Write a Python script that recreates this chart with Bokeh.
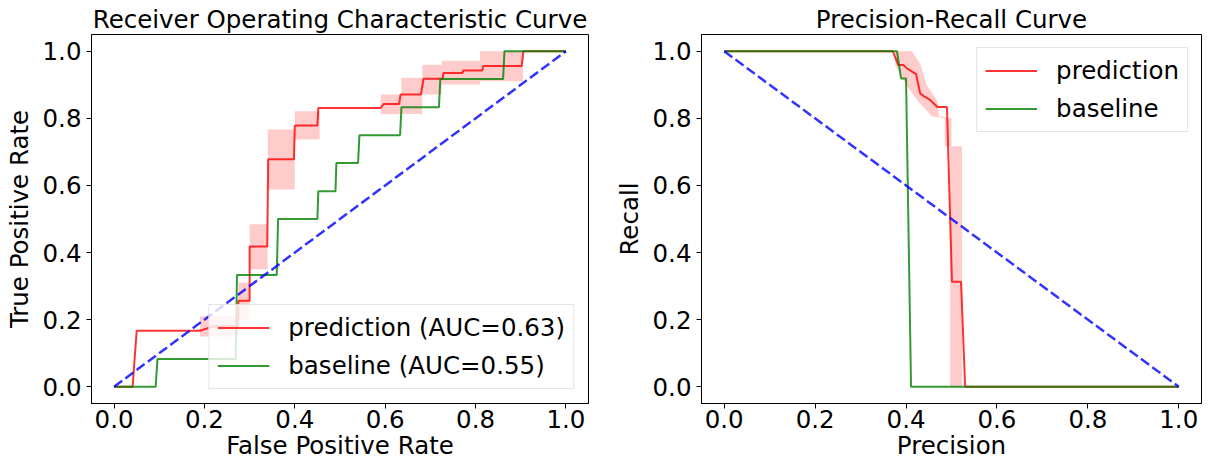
from bokeh.plotting import figure
from bokeh.layouts import row
from bokeh.models import Range1d, FixedTicker, PrintfTickFormatter
from bokeh.embed import file_html
from bokeh.resources import INLINE

# ---------------- data ----------------
tick_values = [0.0, 0.2, 0.4, 0.6, 0.8, 1.0]

# ROC - prediction (mean curve)
roc_pred_fpr = [0.0, 0.041, 0.05, 0.19, 0.22, 0.275, 0.275, 0.30, 0.30, 0.339, 0.341, 0.398, 0.40, 0.45,
                0.452, 0.59, 0.597, 0.631, 0.634, 0.679, 0.685, 0.727, 0.729, 0.771, 0.773, 0.815, 0.817,
                0.902, 0.906, 1.0]
roc_pred_tpr = [0.0, 0.0, 0.167, 0.167, 0.18, 0.18, 0.256, 0.256, 0.418, 0.418, 0.678, 0.678, 0.779, 0.779,
                0.831, 0.831, 0.843, 0.843, 0.871, 0.871, 0.918, 0.918, 0.935, 0.935, 0.943, 0.943, 0.956,
                0.956, 1.0, 1.0]
# ROC - prediction (std band)
roc_band_fpr = [0.19, 0.275, 0.275, 0.30, 0.30, 0.34, 0.34, 0.40, 0.40, 0.455, 0.455, 0.59, 0.59, 0.636,
                0.636, 0.682, 0.682, 0.725, 0.725, 0.81, 0.81, 0.905]
roc_band_lo = [0.15, 0.15, 0.20, 0.20, 0.35, 0.35, 0.588, 0.588, 0.737, 0.737, 0.831, 0.831, 0.812, 0.812,
               0.813, 0.813, 0.871, 0.871, 0.901, 0.901, 0.911, 0.911]
roc_band_hi = [0.21, 0.21, 0.31, 0.31, 0.484, 0.484, 0.767, 0.767, 0.821, 0.821, 0.831, 0.831, 0.871, 0.871,
               0.921, 0.921, 0.96, 0.96, 0.972, 0.972, 1.0, 1.0]
# ROC - baseline
roc_base_fpr = [0.0, 0.092, 0.096, 0.269, 0.272, 0.36, 0.363, 0.45, 0.452, 0.49, 0.492, 0.54, 0.543,
                0.633, 0.636, 0.719, 0.722, 0.861, 0.864, 1.0]
roc_base_tpr = [0.0, 0.0, 0.083, 0.083, 0.333, 0.333, 0.5, 0.5, 0.583, 0.583, 0.667, 0.667, 0.75, 0.75,
                0.833, 0.833, 0.917, 0.917, 1.0, 1.0]

# PR - prediction
pr_pred_prec = [0.0, 0.371, 0.383, 0.394, 0.402, 0.422, 0.431, 0.438, 0.453, 0.469, 0.490, 0.501, 0.521,
                0.530, 1.0]
pr_pred_rec = [1.0, 1.0, 0.959, 0.959, 0.949, 0.932, 0.875, 0.867, 0.855, 0.834, 0.834, 0.313, 0.313,
               0.0, 0.0]
# PR - prediction band (over recall)
pr_band_rec = [0.0, 0.717, 0.717, 0.80, 0.806, 0.85, 0.90, 0.96, 1.0]
pr_band_lo = [0.497, 0.497, 0.485, 0.485, 0.457, 0.427, 0.40, 0.376, 0.376]
pr_band_hi = [0.523, 0.523, 0.50, 0.50, 0.472, 0.47, 0.445, 0.432, 0.413]
# PR - baseline
pr_base_prec = [0.0, 0.380, 0.389, 0.400, 0.411, 1.0]
pr_base_rec = [1.0, 1.0, 0.919, 0.919, 0.0, 0.0]

# chance lines
roc_diag_x = [0.0, 1.0]
roc_diag_y = [0.0, 1.0]
pr_diag_x = [0.0, 1.0]
pr_diag_y = [1.0, 0.0]

# ---------------- styling ----------------
FONT = "DejaVu Sans"
FS = "24.5px"
RED = "#ff0000"
GREEN = "#008000"
BLUE = "#0000ff"


def make_fig(title, xlabel, ylabel, width, left, right, top):
    p = figure(width=width, height=467, output_backend="svg", toolbar_location=None,
               x_range=Range1d(-0.05, 1.05), y_range=Range1d(-0.05, 1.05),
               min_border_left=left, min_border_right=right, min_border_top=top,
               min_border_bottom=64, title=title)
    p.title.text_font = FONT
    p.title.text_font_size = FS
    p.title.text_font_style = "normal"
    p.title.align = "center"
    p.title.standoff = 2
    p.title.text_color = "black"
    p.xaxis.axis_label = xlabel
    p.yaxis.axis_label = ylabel
    for ax in (p.xaxis[0], p.yaxis[0]):
        ax.ticker = FixedTicker(ticks=tick_values)
        ax.formatter = PrintfTickFormatter(format="%.1f")
        ax.major_label_text_font = FONT
        ax.major_label_text_font_size = FS
        ax.major_label_text_color = "black"
        ax.axis_label_text_font = FONT
        ax.axis_label_text_font_size = FS
        ax.axis_label_text_font_style = "normal"
        ax.axis_label_text_color = "black"
        ax.major_tick_out = 5
        ax.major_tick_in = 0
        ax.minor_tick_line_color = None
        ax.axis_line_color = "black"
        ax.major_tick_line_color = "black"
    p.xaxis.major_label_standoff = 1
    p.yaxis.major_label_standoff = 5
    p.xaxis.axis_label_standoff = 0
    p.yaxis.axis_label_standoff = 6
    p.xgrid.visible = False
    p.ygrid.visible = False
    p.outline_line_color = "black"
    p.outline_line_alpha = 1.0
    p.outline_line_width = 1
    p.background_fill_color = "white"
    p.border_fill_color = "white"
    return p


def style_legend(p, location, margin):
    lg = p.legend[0]
    lg.location = location
    lg.label_text_font = FONT
    lg.label_text_font_size = FS
    lg.label_text_color = "black"
    lg.glyph_width = 52
    lg.glyph_height = 27
    lg.label_height = 27
    lg.label_standoff = 19
    lg.padding = 8
    lg.spacing = 9
    lg.margin = margin
    lg.border_line_color = "#cccccc"
    lg.border_line_width = 1
    lg.background_fill_color = "white"
    lg.background_fill_alpha = 0.8


# ---------------- ROC ----------------
p1 = make_fig("Receiver Operating Characteristic Curve", "False Positive Rate", "True Positive Rate",
              600, 91, 12, 34)
p1.varea(x=roc_band_fpr, y1=roc_band_lo, y2=roc_band_hi, fill_color=RED, fill_alpha=0.2)
p1.line(roc_pred_fpr, roc_pred_tpr, line_color=RED, line_alpha=0.8, line_width=2,
        legend_label="prediction (AUC=0.63)")
p1.line(roc_base_fpr, roc_base_tpr, line_color=GREEN, line_alpha=0.8, line_width=2,
        legend_label="baseline (AUC=0.55)")
p1.line(roc_diag_x, roc_diag_y, line_color=BLUE, line_alpha=0.8, line_width=2.5, line_dash="10 4")
style_legend(p1, "bottom_right", 14)

# ---------------- PR ----------------
p2 = make_fig("Precision-Recall Curve", "Precision", "Recall", 608, 101, 7, 31)
p2.harea(y=pr_band_rec, x1=pr_band_lo, x2=pr_band_hi, fill_color=RED, fill_alpha=0.2)
p2.line(pr_pred_prec, pr_pred_rec, line_color=RED, line_alpha=0.8, line_width=2,
        legend_label="prediction")
p2.line(pr_base_prec, pr_base_rec, line_color=GREEN, line_alpha=0.8, line_width=2,
        legend_label="baseline")
p2.line(pr_diag_x, pr_diag_y, line_color=BLUE, line_alpha=0.8, line_width=2.5, line_dash="10 4")
style_legend(p2, "top_right", 13)

layout = row(p1, p2)
open("out.html", "w").write(file_html(layout, INLINE))
